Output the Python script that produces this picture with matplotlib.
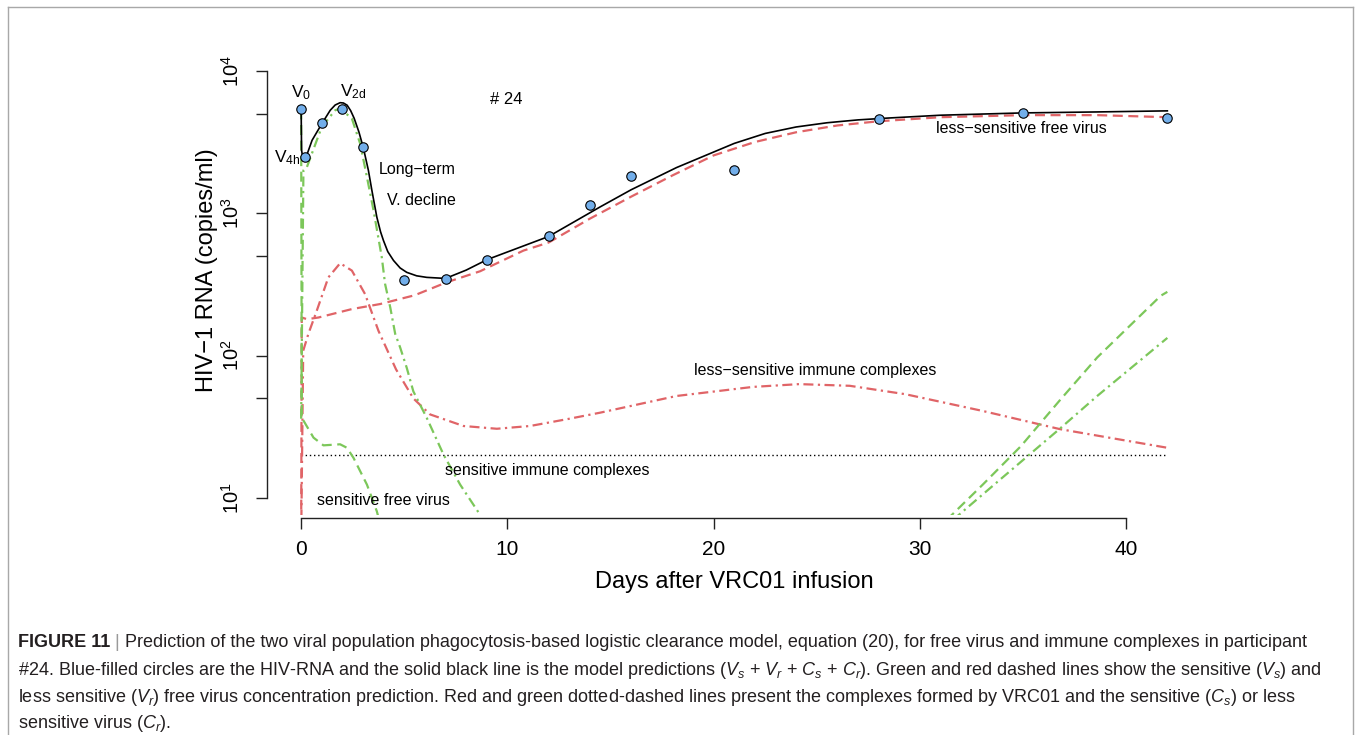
import matplotlib
matplotlib.use("Agg")
import matplotlib.pyplot as plt
from matplotlib.lines import Line2D
from matplotlib.ticker import NullLocator

plt.rcParams['font.family'] = ['Liberation Sans', 'DejaVu Sans']
plt.rcParams['mathtext.fontset'] = 'custom'
plt.rcParams['mathtext.rm'] = 'Liberation Sans'
plt.rcParams['mathtext.it'] = 'Liberation Sans:italic'
plt.rcParams['mathtext.bf'] = 'Liberation Sans:bold'

# observed HIV-RNA (copies/ml)
obs_days = [0, 0.17, 1, 2, 3, 5, 7, 9, 12, 14, 16, 21, 28, 35, 42]
obs_rna = [5350, 2470, 4280, 5350, 2900, 337, 347, 472, 686, 1132, 1811, 2000, 4570, 5040, 4670]

# model total Vs + Vr + Cs + Cr
total_days = [0, 0.02, 0.1, 0.24, 0.53, 1.02, 1.41, 1.65, 1.89, 2.05, 2.23, 2.4, 2.57, 2.8, 3.01,
              3.26, 3.43, 3.67, 3.85, 3.99, 4.2, 4.48, 4.8, 5.12, 5.6, 6.09, 7.0, 8.0, 9.02, 12,
              14.5, 16, 18.2, 21, 22.5, 24, 25.5, 27, 28.5, 31, 35, 38.6, 42]
total_vals = [5350, 2770, 2350, 2480, 3250, 4290, 5280, 5750, 5970, 5940, 5730, 5250, 4640, 3720, 2900,
              2000, 1445, 938, 740, 643, 537, 465, 412, 384, 363, 354, 348, 398, 472, 686,
              1107, 1460, 2090, 3090, 3630, 4030, 4315, 4520, 4660, 4875, 5060, 5140, 5230]

# less-sensitive free virus Vr
vr_days = [0, 0.03, 0.28, 0.84, 2.46, 3.83, 5.5, 7.06, 8.68, 10.78, 12, 14, 16, 18, 20, 22, 24,
           26, 28, 31, 35, 38.6, 42]
vr_vals = [5, 185, 180, 185, 212, 230, 265, 327, 391, 546, 622, 915, 1306, 1840, 2545, 3160, 3700,
           4130, 4420, 4720, 4880, 4880, 4720]

# less-sensitive immune complexes Cr
cr_days = [0, 0.1, 0.35, 0.76, 1.32, 1.89, 2.46, 3.1, 3.75, 4.6, 5.44, 6.25, 7.87, 9.49, 11.1, 12.88,
           14.5, 18.2, 21.9, 24.15, 26.6, 29.3, 33.05, 36.8, 42]
cr_vals = [5, 108, 142, 207, 354, 445, 395, 270, 149, 80, 50, 38.6, 32, 30.6, 32, 35.7,
           39.7, 52, 60.2, 63, 61.3, 53.5, 40.8, 30.4, 22.5]

# sensitive free virus Vs (early drop and late rebound)
vs_early_days = [0, 0.03, 0.6, 1.08, 1.89, 2.22, 2.54, 3.19, 3.67, 3.9]
vs_early_vals = [5350, 36.6, 26.5, 23.4, 23.8, 22.5, 19.1, 12.4, 8.05, 6]
vs_late_days = [31.3, 33.05, 34.9, 36.76, 38.6, 41.68, 42]
vs_late_vals = [7, 12.4, 23.1, 48, 97, 263, 280]

# sensitive immune complexes Cs
cs_early_days = [0, 0.11, 0.28, 1.0, 1.65, 1.89, 2.46, 2.86, 3.19, 3.51, 3.91, 4.07, 4.32, 4.56,
                 4.8, 5.12, 5.44, 6.09, 6.9, 7.71, 8.68, 8.9]
cs_early_vals = [36, 2000, 2110, 4040, 5280, 5430, 4620, 3080, 1795, 1045, 490, 318, 218, 142,
                 114, 82, 56, 36.5, 20.2, 12.4, 7.6, 6.5]
cs_late_days = [31.6, 33.98, 36.76, 38.6, 42]
cs_late_vals = [7, 13.8, 30.4, 52, 133]

limit_days = [0, 42]
limit_vals = [20, 20]

W, H = 1356, 735
red = '#E06467'
green = '#7CC75A'
dash = (0, (4.5, 2.5))
dashdot = (0, (4.5, 2, 1, 2))

fig = plt.figure(figsize=(W / 100, H / 100), dpi=100)
ax = fig.add_axes([266.5 / W, 1 - 515 / H, (1202 - 266.5) / W, (515 - 53.7) / H])

ax.plot(limit_days, limit_vals, color='black', lw=1, linestyle=(0, (1, 2)))
ax.plot(vr_days, vr_vals, color=red, lw=1.6, linestyle=dash)
ax.plot(cr_days, cr_vals, color=red, lw=1.6, linestyle=dashdot)
ax.plot(vs_early_days, vs_early_vals, color=green, lw=1.6, linestyle=dash)
ax.plot(vs_late_days, vs_late_vals, color=green, lw=1.6, linestyle=dash)
ax.plot(cs_early_days, cs_early_vals, color=green, lw=1.6, linestyle=dashdot)
ax.plot(cs_late_days, cs_late_vals, color=green, lw=1.6, linestyle=dashdot)
ax.plot(total_days, total_vals, color='black', lw=1.2)
ax.plot(obs_days, obs_rna, 'o', markersize=6.8, markerfacecolor='#72AEEA',
        markeredgecolor='black', markeredgewidth=0.8)

ax.set_yscale('log')
ax.set_xlim(-1.68, 43.68)
ax.set_ylim(10 ** 0.88, 10 ** 4.12)
ax.yaxis.set_minor_locator(NullLocator())
ax.set_yticks([10, 50, 100, 500, 1000, 5000, 10000])
ax.set_yticklabels([r'$10^1$', '', r'$10^2$', '', r'$10^3$', '', r'$10^4$'])
ax.set_xticks([0, 10, 20, 30, 40])
ax.set_xticklabels(['0', '10', '20', '30', '40'])
for side in ['top', 'right']:
    ax.spines[side].set_visible(False)
ax.spines['left'].set_bounds(10, 10000)
ax.spines['bottom'].set_bounds(0, 40)
ax.spines['bottom'].set_position(('outward', 2))
for side in ['left', 'bottom']:
    ax.spines[side].set_linewidth(1.0)
    ax.spines[side].set_color('#222222')
ax.tick_params(axis='y', labelrotation=90, length=8, width=1.0, pad=9, labelsize=14.5, color='#222222')
ax.tick_params(axis='x', length=8, width=1.0, pad=8, labelsize=15, color='#222222')
for lab in ax.get_yticklabels():
    lab.set_verticalalignment('center')

# labels inside the plot
fs = 11.5
ax.text(0, 6970, r'$\mathregular{V_0}$', ha='center', va='center', fontsize=fs + 1)
ax.text(2.52, 7080, r'$\mathregular{V_{2d}}$', ha='center', va='center', fontsize=fs + 1)
ax.text(-0.05, 2470, r'$\mathregular{V_{4h}}$', ha='right', va='center', fontsize=fs + 1)
ax.text(5.62, 2030, 'Long\u2212term', ha='center', va='center', fontsize=fs)
ax.text(5.85, 1228, 'V. decline', ha='center', va='center', fontsize=fs)
ax.text(9.94, 6310, '# 24', ha='center', va='center', fontsize=fs + 0.5)
ax.text(34.9, 3950, 'less\u2212sensitive free virus', ha='center', va='center', fontsize=fs)
ax.text(24.92, 78.9, 'less\u2212sensitive immune complexes', ha='center', va='center', fontsize=fs)
ax.text(11.95, 15.6, 'sensitive immune complexes', ha='center', va='center', fontsize=fs)
ax.text(4.01, 9.6, 'sensitive free virus', ha='center', va='center', fontsize=fs)

fig.text(734 / W, 1 - 588 / H, 'Days after VRC01 infusion', ha='center', va='baseline', fontsize=17)
fig.text(207 / W, 1 - 270.5 / H, 'HIV\u22121 RNA (copies/ml)', ha='center', va='center',
         rotation=90, fontsize=17)

# frame around the figure
frame = '#A8A8A8'
fig.add_artist(Line2D([8 / W, 1353 / W], [1 - 7 / H, 1 - 7 / H], transform=fig.transFigure, color=frame, lw=1))
fig.add_artist(Line2D([8 / W, 8 / W], [1 - 7 / H, 0], transform=fig.transFigure, color=frame, lw=1))
fig.add_artist(Line2D([1353 / W, 1353 / W], [1 - 7 / H, 0], transform=fig.transFigure, color=frame, lw=1))

# caption
cap_fs = 13.0
cap_col = '#231F20'
t1 = fig.text(18 / W, 1 - 647 / H, 'FIGURE 11', fontsize=cap_fs, weight='bold', color=cap_col, va='baseline')
t2 = ax.annotate(' | ', xy=(1, 0), xycoords=t1, va='bottom', ha='left', fontsize=cap_fs, color='#9A9A9A')
ax.annotate('Prediction of the two viral population phagocytosis-based logistic clearance model, '
            'equation (20), for free virus and immune complexes in participant',
            xy=(1, 0), xycoords=t2, va='bottom', ha='left', fontsize=cap_fs, color=cap_col)
fig.text(18 / W, 1 - 675 / H,
         r'#24. Blue-filled circles are the HIV-RNA and the solid black line is the model predictions '
         r'($V_s$ + $V_r$ + $C_s$ + $C_r$). Green and red dashed lines show the sensitive ($V_s$) and',
         fontsize=cap_fs, color=cap_col, va='baseline')
fig.text(18 / W, 1 - 702 / H,
         r'less sensitive ($V_r$) free virus concentration prediction. Red and green dotted-dashed lines '
         r'present the complexes formed by VRC01 and the sensitive ($C_s$) or less',
         fontsize=cap_fs, color=cap_col, va='baseline')
fig.text(18 / W, 1 - 728 / H, r'sensitive virus ($C_r$).', fontsize=cap_fs, color=cap_col, va='baseline')

fig.savefig('out.png', dpi=100)
